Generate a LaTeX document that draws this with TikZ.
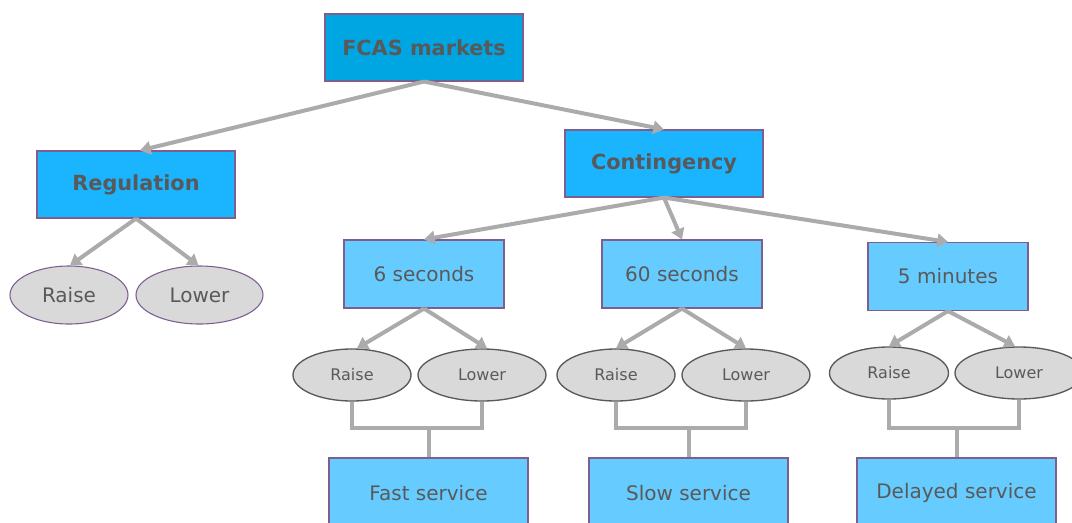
\documentclass[tikz,border=0pt]{standalone}
\usepackage{fontspec}
\setmainfont{DejaVu Sans}
\usetikzlibrary{shapes.geometric,arrows.meta}
\definecolor{txt}{HTML}{595959}
\definecolor{topc}{HTML}{00A6E2}
\definecolor{midc}{HTML}{1AB4FF}
\definecolor{lowc}{HTML}{66CCFF}
\definecolor{ellc}{HTML}{D9D9D9}
\definecolor{bord}{HTML}{7E5E8E}
\definecolor{arr}{HTML}{ABABAB}
\tikzset{
  x=0.75pt, y=-0.75pt,
  box/.style={draw=bord, line width=0.8pt, minimum width=198*0.75pt, minimum height=67*0.75pt, inner sep=0pt, text=txt, font=\fontsize{15}{18}\selectfont},
  hbox/.style={box, font=\bfseries\fontsize{15.6}{18}\selectfont},
  sbox/.style={box, fill=lowc, minimum width=160*0.75pt, minimum height=68*0.75pt},
  ebox/.style={box, fill=lowc, minimum width=199*0.75pt, minimum height=70*0.75pt},
  rell/.style={ellipse, draw=bord, line width=0.8pt, fill=ellc, text=txt, inner sep=0pt, minimum height=58*0.75pt, font=\fontsize{15}{18}\selectfont},
  gell/.style={ellipse, draw=txt, line width=1pt, fill=ellc, text=txt, inner sep=0pt, minimum height=52*0.75pt, font=\fontsize{12}{14}\selectfont},
  conn/.style={draw=arr, line width=3pt, -{Triangle[length=8pt,width=10pt]}},
  link/.style={draw=arr, line width=3pt},
}
\begin{document}
\begin{tikzpicture}
\useasboundingbox (0,0) rectangle (1072,522);
\node[hbox, fill=topc] (fcas) at (424,47.5) {FCAS markets};
\node[hbox, fill=midc] (reg) at (136,184.5) {Regulation};
\node[hbox, fill=midc] (cont) at (664,163.5) {Contingency};
\node[sbox] (s6) at (424,274) {6 seconds};
\node[sbox] (s60) at (682,274) {60 seconds};
\node[sbox] (m5) at (948,276.5) {5 minutes};
\node[ebox] (fast) at (428.5,493) {Fast service};
\node[ebox] (slow) at (688.5,493) {Slow service};
\node[ebox] (del) at (956.5,493) {Delayed service};
\node[rell, minimum width=118*0.75pt] (rr) at (69,295) {Raise};
\node[rell, minimum width=127*0.75pt] (rl) at (199.5,295) {Lower};
\node[gell, minimum width=118*0.75pt] (r6) at (352,375) {Raise};
\node[gell, minimum width=128*0.75pt] (l6) at (482,375) {Lower};
\node[gell, minimum width=118*0.75pt] (r60) at (616,375) {Raise};
\node[gell, minimum width=128*0.75pt] (l60) at (746,375) {Lower};
\node[gell, minimum width=119*0.75pt] (r5) at (889,373) {Raise};
\node[gell, minimum width=128*0.75pt] (l5) at (1019,373) {Lower};
\coordinate (yb) at (0,428);
% arrows
\draw[conn] (fcas.south) -- ([xshift=4*0.75pt]reg.north);
\draw[conn] (fcas.south) -- (cont.north);
\draw[conn] (cont.south) -- (s6.north);
\draw[conn] (cont.south) -- (s60.north);
\draw[conn] (cont.south) -- (m5.north);
\draw[conn] (reg.south) -- ([xshift=1*0.75pt]rr.north);
\draw[conn] (reg.south) -- ([xshift=-1*0.75pt]rl.north);
\draw[conn] (s6.south) -- ([xshift=5*0.75pt]r6.north);
\draw[conn] (s6.south) -- ([xshift=5*0.75pt]l6.north);
\draw[conn] (s60.south) -- (r60.north);
\draw[conn] (s60.south) -- (l60.north);
\draw[conn] (m5.south) -- (r5.north);
\draw[conn] (m5.south) -- ([xshift=-4*0.75pt]l5.north);
% brackets
\coordinate (j6) at (fast.north |- yb);
\coordinate (j60) at (slow.north |- yb);
\coordinate (j5) at (del.north |- yb);
\draw[link] (r6.south) |- (j6) -| (l6.south);
\draw[link] (j6) -- (fast.north);
\draw[link] (r60.south) |- (j60) -| (l60.south);
\draw[link] (j60) -- (slow.north);
\draw[link] (r5.south) |- (j5) -| (l5.south);
\draw[link] (j5) -- (del.north);
\end{tikzpicture}
\end{document}
